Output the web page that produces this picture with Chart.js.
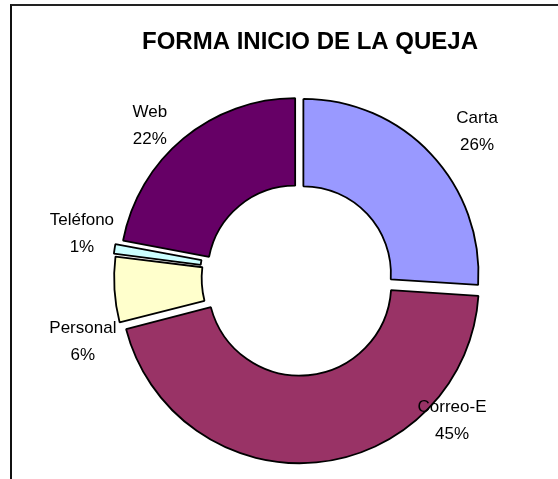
<!DOCTYPE html>
<html>
<head>
<meta charset="utf-8">
<script src="https://cdn.jsdelivr.net/npm/chart.js@4/dist/chart.umd.min.js"></script>
<style>
  html, body { margin: 0; padding: 0; background: #fff; }
  .marco { position: absolute; left: 0; top: 0; width: 558px; height: 479px; }
  .marco::before {
    content: ""; position: absolute; left: 10px; top: 4px; right: -4px; bottom: -4px;
    border-top: 2px solid #222; border-left: 2px solid #111;
  }
  canvas { position: absolute; left: 0; top: 0; }
</style>
</head>
<body>
<div class="marco">
  <canvas id="quejaChart" width="558" height="479"></canvas>
</div>
<script>
const chartTitle = "FORMA INICIO DE LA QUEJA";
const categories = ["Carta", "Correo-E", "Personal", "Teléfono", "Web"];
const percentValues = [26, 45, 6, 1, 22];
const sliceColors = ["#9999ff", "#993366", "#ffffcc", "#ccffff", "#660066"];

(() => {
  // where each label block sits: angle from top (deg) and distance / outer radius
  const labelSpots = [
    { angle: 50.6, dist: 1.316 },
    { angle: 132.9, dist: 1.193 },
    { angle: 253.7, dist: 1.286 },
    { angle: 281.7, dist: 1.266 },
    { angle: 315.7, dist: 1.22 }
  ];

  const textPlugin = {
    id: "textos",
    afterDraw(chart) {
      const ctx = chart.ctx;
      const arcs = chart.getDatasetMeta(0).data;
      if (!arcs.length) return;
      const cx = arcs[0].x, cy = arcs[0].y, r = arcs[0].outerRadius;
      const total = percentValues.reduce((a, b) => a + b, 0);
      ctx.save();
      ctx.fillStyle = "#000";
      ctx.textAlign = "center";
      ctx.textBaseline = "middle";
      ctx.font = "bold 24px 'Liberation Sans', Arial, sans-serif";
      ctx.fillText(chartTitle, 310, 42);
      ctx.font = "17px 'Liberation Sans', Arial, sans-serif";
      categories.forEach((name, i) => {
        const spot = labelSpots[i];
        const a = spot.angle * Math.PI / 180;
        const x = cx + Math.sin(a) * r * spot.dist;
        const y = cy - Math.cos(a) * r * spot.dist;
        const pct = Math.round(percentValues[i] / total * 100) + "%";
        ctx.fillText(name, x, y - 13);
        ctx.fillText(pct, x, y + 14);
      });
      ctx.restore();
    }
  };

  new Chart(document.getElementById("quejaChart"), {
    type: "doughnut",
    data: {
      labels: categories,
      datasets: [{
        data: percentValues,
        backgroundColor: sliceColors,
        borderColor: "#000",
        borderWidth: 1.8,
        offset: 24,
        hoverOffset: 0
      }]
    },
    options: {
      responsive: false,
      animation: false,
      cutout: "50%",
      layout: { padding: { top: 90, bottom: 13, left: 90, right: 50 } },
      plugins: {
        legend: { display: false },
        title: { display: false },
        tooltip: { enabled: false }
      },
      events: []
    },
    plugins: [textPlugin]
  });
})();
</script>
</body>
</html>
